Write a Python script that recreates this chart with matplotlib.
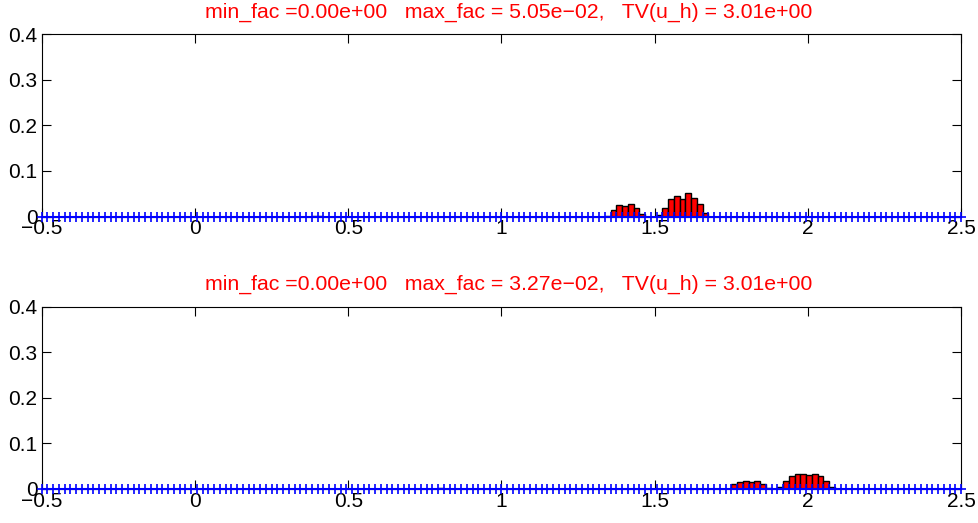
import numpy as np
import matplotlib
matplotlib.use("Agg")
import matplotlib.pyplot as plt

plt.rcParams['font.family'] = ['Liberation Sans', 'DejaVu Sans']

# grid: 160 cells on [-0.5, 2.5]
x_min, x_max, n_cells = -0.5, 2.5, 160
edges = np.linspace(x_min, x_max, n_cells + 1)
dx = (x_max - x_min) / n_cells

# top panel: bar heights per cell index
top_cells = [47, 48, 98, 99, 100, 101, 102, 103, 104,
             107, 108, 109, 110, 111, 112, 113, 114, 115]
top_vals = [0.002, 0.002, 0.001, 0.014, 0.026, 0.022, 0.028, 0.018, 0.005,
            0.003, 0.019, 0.038, 0.046, 0.038, 0.0505, 0.041, 0.028, 0.008]
top_title = "min_fac =0.00e+00   max_fac = 5.05e\u221202,   TV(u_h) = 3.01e+00"

# bottom panel
bot_cells = [68, 69, 70, 119, 120, 121, 122, 123, 124, 125, 126,
             128, 129, 130, 131, 132, 133, 134, 135, 136, 137]
bot_vals = [0.001, 0.002, 0.001, 0.001, 0.011, 0.016, 0.0185, 0.016, 0.0185, 0.011, 0.003,
            0.0045, 0.017, 0.028, 0.0327, 0.0327, 0.030, 0.0325, 0.0285, 0.018, 0.005]
bot_title = "min_fac =0.00e+00   max_fac = 3.27e\u221202,   TV(u_h) = 3.01e+00"

xticks = [-0.5, 0, 0.5, 1, 1.5, 2, 2.5]
xticklabels = ['\u22120.5', '0', '0.5', '1', '1.5', '2', '2.5']
yticks = [0, 0.1, 0.2, 0.3, 0.4]
yticklabels = ['0', '0.1', '0.2', '0.3', '0.4']

fig = plt.figure(figsize=(9.79, 5.23), dpi=100)
W, H = 979, 523
ax1 = fig.add_axes([41.7 / W, 1 - 216.5 / H, 919.5 / W, 182.5 / H])
ax2 = fig.add_axes([41.7 / W, 1 - 489 / H, 919.5 / W, 182.5 / H])

for ax, cells, vals, title in [(ax1, top_cells, top_vals, top_title),
                               (ax2, bot_cells, bot_vals, bot_title)]:
    lefts = edges[np.array(cells)]
    ax.bar(lefts, vals, width=dx, align='edge', color='#ff0000',
           edgecolor='black', linewidth=1.0, zorder=2)
    ax.plot(edges, np.zeros_like(edges), color='#0000ff', linewidth=1.5,
            marker='+', markersize=7, markeredgewidth=1.2, zorder=3, clip_on=False)
    ax.set_xlim(x_min, x_max)
    ax.set_ylim(0, 0.4)
    ax.set_xticks(xticks)
    ax.set_xticklabels(xticklabels)
    ax.set_yticks(yticks)
    ax.set_yticklabels(yticklabels)
    ax.tick_params(direction='in', length=6.5, width=0.8, labelsize=15,
                   top=True, right=True)
    ax.tick_params(axis='x', pad=2)
    ax.tick_params(axis='y', pad=3)
    for s in ax.spines.values():
        s.set_linewidth(0.8)
    ax.set_title(title, color='#ff0000', fontsize=15.3, pad=12, x=0.508)

fig.savefig('out.png', dpi=100)
